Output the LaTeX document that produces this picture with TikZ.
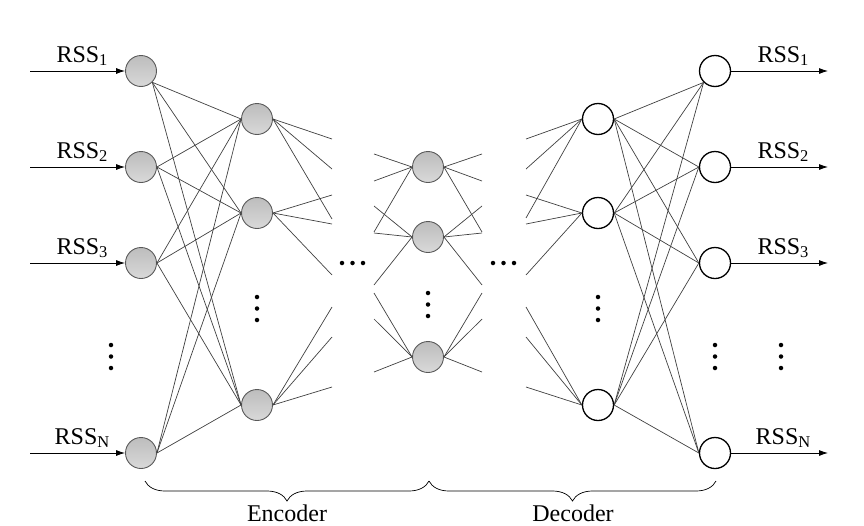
\documentclass[tikz,border=0pt]{standalone}
\usepackage{fontspec}
\setmainfont{Liberation Serif}
\usetikzlibrary{arrows.meta,decorations.pathreplacing}

% subscript index, slightly larger and lower than \textsubscript
\newcommand{\idx}[1]{\raisebox{-3.5pt}{\fontsize{16.5}{16.5}\selectfont #1}}

\begin{document}
\begin{tikzpicture}[x=1pt,y=-1pt,
  encnode/.style={circle, draw=black!65, line width=0.9pt, minimum size=31pt,
                  inner sep=0pt, top color=gray!52, bottom color=gray!30},
  decnode/.style={circle, draw=black, line width=1.3pt, minimum size=31pt,
                  inner sep=0pt, fill=white},
  link/.style={draw=black!75, line width=0.7pt},
  io/.style={-{Latex[length=9pt,width=6pt]}, line width=0.8pt},
  vdot/.style={circle, fill=black, inner sep=0pt, minimum size=4.5pt},
  lbl/.style={font=\fontsize{24}{28}\selectfont, inner sep=0pt, anchor=base},
  bracepath/.style={decorate, line width=0.7pt,
                    decoration={brace, mirror, amplitude=20pt}}
]
\useasboundingbox (0,0) rectangle (864,525);

% input layer
\node[encnode] (i1) at (141,71)  {};
\node[encnode] (i2) at (141,167) {};
\node[encnode] (i3) at (141,263) {};
\node[encnode] (iN) at (141,453) {};
% first hidden layer
\node[encnode] (h1) at (257,119) {};
\node[encnode] (h2) at (257,213) {};
\node[encnode] (h3) at (257,405) {};
% code layer
\node[encnode] (m1) at (428,167) {};
\node[encnode] (m2) at (428,237) {};
\node[encnode] (m3) at (428,357) {};
% last hidden layer
\node[decnode] (g1) at (598,119) {};
\node[decnode] (g2) at (598,213) {};
\node[decnode] (g3) at (598,405) {};
% output layer
\node[decnode] (o1) at (715,71)  {};
\node[decnode] (o2) at (715,167) {};
\node[decnode] (o3) at (715,263) {};
\node[decnode] (oN) at (715,453) {};

% fully connected: input -> first hidden
\foreach \s in {i1.south east, i2.east, i3.east, iN.east}
  \foreach \t in {h1, h2, h3}
    \draw[link] (\s) -- (\t.west);

% fully connected: last hidden -> output
\foreach \s in {g1, g2, g3}
  \foreach \t in {o1.south west, o2.west, o3.west, oN.west}
    \draw[link] (\s.east) -- (\t);

% partial links leaving the first hidden layer
\foreach \n/\ys in {h1/{139,169,219}, h2/{195,224,275}, h3/{307,337,387}}
  \foreach \y [count=\k] in \ys {
    \coordinate (a\n\k) at (332,\y);
    \draw[link] (\n.east) -- (a\n\k);
  }

% partial links around the code layer
\foreach \n/\ys in {m1/{154,181,232}, m2/{206,233,285}, m3/{293,319,372}}
  \foreach \y [count=\k] in \ys {
    \coordinate (bl\n\k) at (374,\y);
    \coordinate (br\n\k) at (482,\y);
    \draw[link] (bl\n\k) -- (\n.west);
    \draw[link] (\n.east) -- (br\n\k);
  }

% partial links entering the last hidden layer
\foreach \n/\ys in {g1/{139,169,218}, g2/{195,224,275}, g3/{307,337,387}}
  \foreach \y [count=\k] in \ys {
    \coordinate (c\n\k) at (526,\y);
    \draw[link] (c\n\k) -- (\n.west);
  }

% input arrows and labels
\foreach \n/\y/\s in {i1/71/1, i2/167/2, i3/263/3, iN/453/N} {
  \coordinate (src\n) at (30,\y);
  \draw[io] (src\n) -- (\n.west);
  \node[lbl] (l\n) at (82,\y-9) {RSS\idx{\s}};
}
% output arrows and labels
\foreach \n/\y/\s in {o1/71/1, o2/167/2, o3/263/3, oN/453/N} {
  \coordinate (dst\n) at (828,\y);
  \draw[io] (\n.east) -- (dst\n);
  \node[lbl] (l\n) at (783,\y-9) {RSS\idx{\s}};
}

% vertical ellipses
\foreach \x/\y [count=\k] in {111/345, 257/297, 428/293, 598/297, 715/345, 781/345} {
  \node[vdot] (va\k) at (\x,\y) {};
  \node[vdot] (vb\k) at (\x,\y+11.5) {};
  \node[vdot] (vc\k) at (\x,\y+23) {};
}
% horizontal ellipses
\foreach \x [count=\k] in {342, 493} {
  \node[vdot] (ha\k) at (\x,263) {};
  \node[vdot] (hb\k) at (\x+10.5,263) {};
  \node[vdot] (hc\k) at (\x+21,263) {};
}

% braces
\coordinate (encL) at (145,481);
\coordinate (encR) at (429,481);
\coordinate (decL) at (429,481);
\coordinate (decR) at (716,481);
\draw[bracepath] (encL) -- (encR);
\draw[bracepath] (decL) -- (decR);
\node[lbl] (enc) at (287,521) {Encoder};
\node[lbl] (dec) at (573,521) {Decoder};
\end{tikzpicture}
\end{document}
